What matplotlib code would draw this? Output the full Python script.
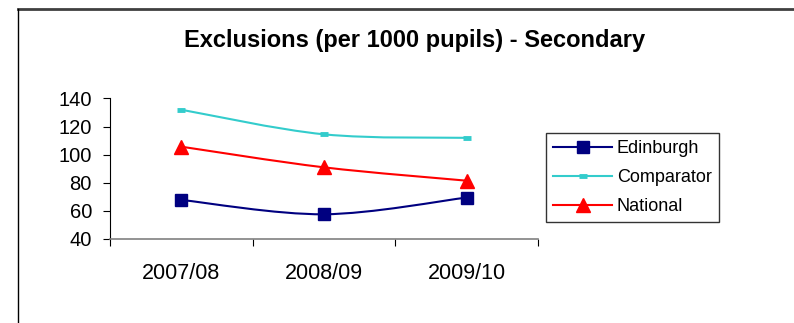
import matplotlib
matplotlib.use("Agg")
import matplotlib.pyplot as plt
from matplotlib.path import Path
from matplotlib.patches import PathPatch
from matplotlib.lines import Line2D

plt.rcParams['font.family'] = ['Liberation Sans', 'DejaVu Sans']

title = "Exclusions (per 1000 pupils) - Secondary"
years = ["2007/08", "2008/09", "2009/10"]
edinburgh = [67.8, 57.6, 69.5]
comparator = [132, 114.5, 112]
national = [105.7, 91, 81.5]

series = [
    ("Edinburgh", edinburgh, "#000080", "s", 9, 1.5),
    ("Comparator", comparator, "#33CCCC", "_", 6, 3.5),
    ("National", national, "#FF0000", "^", 10, 1.5),
]


def smooth_path(xs, ys):
    """Bezier path through the points (Catmull-Rom style smoothing)."""
    pts = list(zip(xs, ys))
    n = len(pts)
    verts = [pts[0]]
    codes = [Path.MOVETO]
    for i in range(n - 1):
        p0 = pts[i - 1] if i > 0 else pts[i]
        p1 = pts[i]
        p2 = pts[i + 1]
        p3 = pts[i + 2] if i + 2 < n else pts[i + 1]
        c1 = (p1[0] + (p2[0] - p0[0]) / 6, p1[1] + (p2[1] - p0[1]) / 6)
        c2 = (p2[0] - (p3[0] - p1[0]) / 6, p2[1] - (p3[1] - p1[1]) / 6)
        verts += [c1, c2, p2]
        codes += [Path.CURVE4] * 3
    return Path(verts, codes)


fig = plt.figure(figsize=(7.94, 3.23), dpi=100)
ax = fig.add_axes([110 / 794, 1 - 239 / 323, 428 / 794, 140.5 / 323])

xs = [i + 0.5 for i in range(len(years))]
handles = []
for name, vals, color, marker, ms, mew in series:
    ax.add_patch(PathPatch(smooth_path(xs, vals), fill=False, edgecolor=color,
                           linewidth=1.5, zorder=2))
    if marker == "_":
        ax.plot(xs, vals, linestyle="none", marker=marker, markersize=ms,
                markeredgewidth=mew, color=color, zorder=3)
    else:
        ax.plot(xs, vals, linestyle="none", marker=marker, markersize=ms,
                color=color, markeredgecolor=color, zorder=3)
    handles.append(Line2D([], [], color=color, linewidth=1.5, marker=marker,
                          markersize=ms, markeredgewidth=mew if marker == "_" else 1,
                          markeredgecolor=color, label=name))

ax.set_xlim(0, 3)
ax.set_ylim(40, 140)
ax.set_yticks(range(40, 141, 20))
ax.set_xticks([0, 1, 2, 3])
ax.set_xticklabels([])
ax.set_xticks(xs, minor=True)
ax.set_xticklabels(years, minor=True)
ax.tick_params(axis="x", which="minor", length=0, pad=17, labelsize=15.5)
ax.tick_params(axis="x", which="major", length=5, direction="out", color="black")
ax.tick_params(axis="y", length=5, direction="out", labelsize=14.5, pad=8)

for side in ("top", "right"):
    ax.spines[side].set_visible(False)
ax.spines["left"].set_color("black")
ax.spines["bottom"].set_color("#808080")
ax.spines["bottom"].set_linewidth(1.2)

fig.text(415 / 794, 1 - 46.5 / 323, title, ha="center", va="baseline",
         fontsize=17, fontweight="bold")

leg = fig.legend(handles=handles, loc="upper left",
                 bbox_to_anchor=(546 / 794, 1 - 133 / 323),
                 frameon=True, fancybox=False, fontsize=13,
                 handlelength=3.3, handletextpad=0.25, labelspacing=0.68,
                 borderpad=0.38, borderaxespad=0)
leg.get_frame().set_edgecolor("black")
leg.get_frame().set_linewidth(1.0)

# outer chart frame
fig.add_artist(Line2D([18 / 794, 1], [1 - 8.5 / 323] * 2, color="#404040",
                      linewidth=2, transform=fig.transFigure))
fig.add_artist(Line2D([18 / 794] * 2, [0, 1 - 8.5 / 323], color="black",
                      linewidth=1, transform=fig.transFigure))

fig.savefig("out.png", dpi=100)
